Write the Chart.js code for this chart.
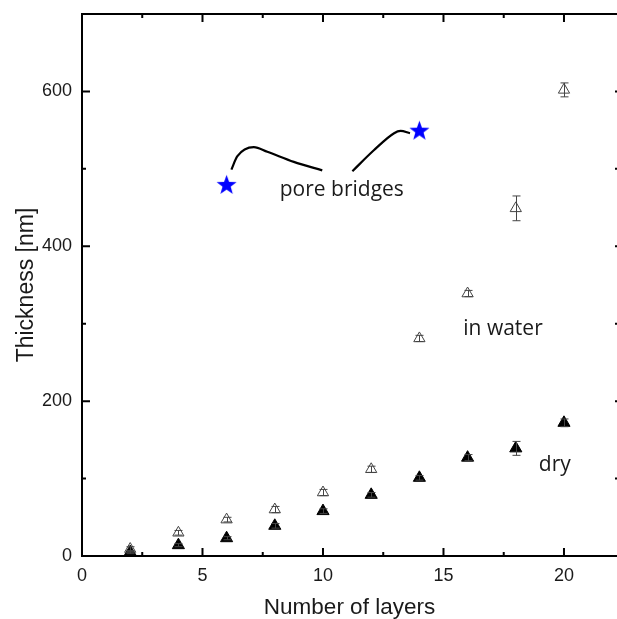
<!DOCTYPE html>
<html>
<head>
<meta charset="utf-8">
<script src="https://cdn.jsdelivr.net/npm/chart.js@4.4.1/dist/chart.umd.min.js"></script>
<style>
  html, body { margin: 0; padding: 0; background: #fff; overflow: hidden; }
  canvas { display: block; }
</style>
</head>
<body>
<canvas id="chart" width="617" height="619"></canvas>
<script>
// data
const layers = [2, 4, 6, 8, 10, 12, 14, 16, 18, 20];
const dryThickness = [5, 14, 23, 39, 58, 79, 101, 127, 139, 172];
const dryError = [2, 2, 2, 3, 3, 3, 3, 4, 9, 5];
const waterThickness = [9, 30, 47, 60, 82, 112, 281, 339, 449, 602];
const waterError = [3, 3, 3, 4, 4, 4, 4, 4, 16, 9];
const bridgeLayers = [6, 14];
const bridgeThickness = [480, 550];
// hand drawn connector curves (data units)
const curveA = [[6.2, 499], [6.44, 516], [7.13, 528], [7.69, 522], [8.79, 509], [9.97, 498]];
const curveB = [[11.22, 497], [12.11, 524], [12.95, 546], [13.22, 549], [13.61, 546]];
const notes = [
  { text: 'pore bridges', x: 10.78, y: 473 },
  { text: 'in water', x: 17.47, y: 293 },
  { text: 'dry', x: 19.62, y: 117 }
];

const toPts = (xs, ys) => xs.map((x, i) => ({ x: x, y: ys[i] }));
const arrPts = arr => arr.map(p => ({ x: p[0], y: p[1] }));

// five point star marker
function makeStar(outer, inner, color) {
  const c = document.createElement('canvas');
  const s = outer * 2 + 2;
  c.width = s; c.height = s;
  const g = c.getContext('2d');
  g.beginPath();
  for (let i = 0; i < 10; i++) {
    const r = i % 2 === 0 ? outer : inner;
    const a = -Math.PI / 2 + i * Math.PI / 5;
    const px = s / 2 + Math.cos(a) * r, py = s / 2 + Math.sin(a) * r + 1;
    if (i === 0) g.moveTo(px, py); else g.lineTo(px, py);
  }
  g.closePath();
  g.fillStyle = color;
  g.fill();
  return c;
}
const starImg = makeStar(10.5, 4.3, '#0000ff');

// error bars + frame ticks + text notes
const extras = {
  id: 'extras',
  afterDatasetsDraw(chart) {
    const ctx = chart.ctx, xs = chart.scales.x, ys = chart.scales.y;
    ctx.save();
    ctx.strokeStyle = '#444';
    ctx.lineWidth = 1;
    [[waterThickness, waterError], [dryThickness, dryError]].forEach(([vals, errs]) => {
      vals.forEach((v, i) => {
        const px = Math.round(xs.getPixelForValue(layers[i])) + 0.5;
        const top = ys.getPixelForValue(v + errs[i]);
        const bot = ys.getPixelForValue(v - errs[i]);
        ctx.beginPath();
        ctx.moveTo(px, top); ctx.lineTo(px, bot);
        ctx.moveTo(px - 4, top); ctx.lineTo(px + 4, top);
        ctx.moveTo(px - 4, bot); ctx.lineTo(px + 4, bot);
        ctx.stroke();
      });
    });
    ctx.restore();
  },
  afterDraw(chart) {
    const ctx = chart.ctx, xs = chart.scales.x, ys = chart.scales.y;
    const a = chart.chartArea;
    ctx.save();
    ctx.strokeStyle = '#000';
    ctx.lineWidth = 2;
    ctx.beginPath();
    ctx.moveTo(a.left, a.top); ctx.lineTo(a.right, a.top);
    for (let v = 0; v <= 22; v += 2.5) {
      const px = xs.getPixelForValue(v);
      const len = v % 5 === 0 ? 8 : 4;
      ctx.moveTo(px, a.bottom); ctx.lineTo(px, a.bottom - len);
      ctx.moveTo(px, a.top); ctx.lineTo(px, a.top + len);
    }
    for (let v = 0; v <= 700; v += 100) {
      const py = ys.getPixelForValue(v);
      const len = v % 200 === 0 ? 8 : 4;
      ctx.moveTo(a.left, py); ctx.lineTo(a.left + len, py);
      ctx.moveTo(a.right, py); ctx.lineTo(a.right - 2, py);
    }
    ctx.stroke();
    ctx.fillStyle = '#1a1a1a';
    ctx.font = '21px "Open Sans"';
    ctx.textAlign = 'center';
    ctx.textBaseline = 'middle';
    notes.forEach(n => ctx.fillText(n.text, xs.getPixelForValue(n.x), ys.getPixelForValue(n.y)));
    ctx.restore();
  }
};

const curveStyle = {
  type: 'line', showLine: true, borderColor: '#000', borderWidth: 2.2,
  pointRadius: 0, tension: 0.4, cubicInterpolationMode: 'monotone', fill: false
};

new Chart('chart', {
  type: 'scatter',
  data: {
    datasets: [
      Object.assign({ label: 'curveA', data: arrPts(curveA) }, curveStyle),
      Object.assign({ label: 'curveB', data: arrPts(curveB) }, curveStyle),
      {
        label: 'in water', data: toPts(layers, waterThickness),
        pointStyle: 'triangle', pointRadius: 6.5, borderWidth: 1,
        borderColor: '#444', backgroundColor: 'rgba(255,255,255,0)'
      },
      {
        label: 'dry', data: toPts(layers, dryThickness),
        pointStyle: 'triangle', pointRadius: 7, borderWidth: 1,
        borderColor: '#000', backgroundColor: '#000'
      },
      {
        label: 'pore bridges', data: toPts(bridgeLayers, bridgeThickness),
        pointStyle: starImg, pointRadius: 11
      }
    ]
  },
  options: {
    responsive: false,
    animation: false,
    layout: { autoPadding: false, padding: { top: 14, right: 0, left: 0, bottom: 0 } },
    plugins: { legend: { display: false }, tooltip: { enabled: false } },
    scales: {
      x: {
        type: 'linear', min: 0, max: 22.2,
        grid: { display: false, drawTicks: false },
        border: { display: true, color: '#000', width: 2 },
        ticks: {
          stepSize: 5, padding: 9, color: '#1a1a1a', autoSkip: false, includeBounds: false,
          font: { family: '"Liberation Sans", Arial', size: 18 }
        },
        title: {
          display: true, text: 'Number of layers', color: '#1a1a1a',
          font: { family: '"Liberation Sans", Arial', size: 22.5 }, padding: { top: 4, bottom: -2 }
        },
        afterFit: s => { s.height = 63; s.paddingLeft = 0; s.paddingRight = 0; }
      },
      y: {
        type: 'linear', min: 0, max: 700,
        grid: { display: false, drawTicks: false },
        border: { display: true, color: '#000', width: 2 },
        ticks: {
          stepSize: 200, padding: 10, color: '#1a1a1a', includeBounds: false,
          font: { family: '"Liberation Sans", Arial', size: 18 }
        },
        title: {
          display: true, text: 'Thickness [nm]', color: '#1a1a1a',
          font: { family: '"Liberation Sans", Arial', size: 23 }, padding: { top: 13, bottom: 0 }
        },
        afterFit: s => { s.width = 82; s.paddingTop = 0; s.paddingBottom = 0; }
      }
    }
  },
  plugins: [extras]
});
</script>
</body>
</html>
